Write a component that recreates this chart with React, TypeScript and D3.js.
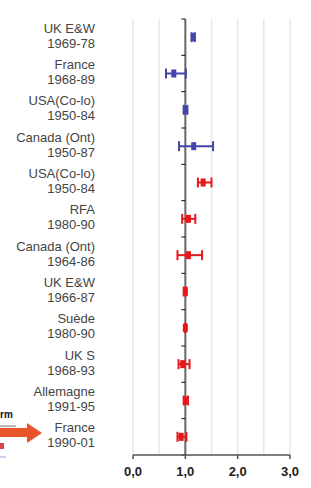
import React from 'react'
import * as d3 from 'd3'

// study labels (two lines each)
const studies = [
  'UK E&W', 'France', 'USA(Co-lo)', 'Canada (Ont)',
  'USA(Co-lo)', 'RFA', 'Canada (Ont)', 'UK E&W',
  'Suède', 'UK S', 'Allemagne', 'France',
]
const periods = [
  '1969-78', '1968-89', '1950-84', '1950-87',
  '1950-84', '1980-90', '1964-86', '1966-87',
  '1980-90', '1968-93', '1991-95', '1990-01',
]
// relative risk and confidence interval
const rr = [1.15, 0.78, 1.0, 1.16, 1.34, 1.06, 1.06, 1.0, 1.0, 0.95, 1.0, 0.92]
const lo = [1.12, 0.63, 0.97, 0.88, 1.24, 0.94, 0.85, 0.97, 0.99, 0.87, 0.97, 0.85]
const hi = [1.18, 1.01, 1.04, 1.53, 1.5, 1.19, 1.32, 1.02, 1.01, 1.08, 1.05, 1.02]
const group = ['b', 'b', 'b', 'b', 'r', 'r', 'r', 'r', 'r', 'r', 'r', 'r']

const xTicks = [0, 1, 2, 3]
const gridVals = [0, 0.5, 1.5, 2, 2.5, 3]

const W = 311
const H = 488
const colors = { b: '#4444aa', r: '#e8171a' }

export default function App() {
  const x = d3.scaleLinear().domain([0, 3]).range([133, 290])
  const y = d3
    .scaleBand<number>()
    .domain(d3.range(studies.length))
    .range([19, 455])
  const bw = y.bandwidth()
  const fmt = (v: number) => v.toFixed(1).replace('.', ',')
  const font = 'Liberation Sans, Arial, sans-serif'

  return (
    <svg
      width={W}
      height={H}
      style={{ position: 'absolute', left: 0, top: 0, background: '#fff' }}
    >
      {/* gridlines */}
      {gridVals.map((g) => (
        <line
          key={g}
          x1={x(g)}
          x2={x(g)}
          y1={19}
          y2={455}
          stroke="#e8e8e8"
          strokeWidth={1.5}
        />
      ))}

      {/* vertical axis at 1 */}
      <line x1={x(1)} x2={x(1)} y1={19} y2={455} stroke="#666" strokeWidth={2} />
      {d3.range(studies.length + 1).map((i) => (
        <line
          key={i}
          x1={x(1) - 4}
          x2={x(1)}
          y1={19 + i * bw}
          y2={19 + i * bw}
          stroke="#111"
          strokeWidth={1}
        />
      ))}

      {/* bottom axis */}
      <line x1={x(0)} x2={x(3)} y1={455} y2={455} stroke="#555" strokeWidth={1.5} />
      {xTicks.map((t) => (
        <g key={t}>
          <line x1={x(t)} x2={x(t)} y1={455} y2={459} stroke="#555" strokeWidth={1.5} />
          <text
            x={x(t)}
            y={473}
            textAnchor="middle"
            dominantBaseline="middle"
            fontFamily={font}
            fontWeight="bold"
            fontSize={13}
            fill="#222"
          >
            {fmt(t)}
          </text>
        </g>
      ))}

      {/* labels */}
      {studies.map((s, i) => {
        const cy = (y(i) as number) + bw / 2
        return (
          <g key={i} fontFamily={font} fontSize={13} fill="#444" textAnchor="end">
            <text x={95} y={cy - 8} dominantBaseline="middle">{s}</text>
            <text x={95} y={cy + 7} dominantBaseline="middle">{periods[i]}</text>
          </g>
        )
      })}

      {/* error bars */}
      {rr.map((v, i) => {
        const cy = (y(i) as number) + bw / 2
        const c = colors[group[i] as 'b' | 'r']
        return (
          <g key={i} stroke={c} fill={c}>
            <line x1={x(lo[i])} x2={x(hi[i])} y1={cy} y2={cy} strokeWidth={2} />
            <line x1={x(lo[i])} x2={x(lo[i])} y1={cy - 5} y2={cy + 5} strokeWidth={2} />
            <line x1={x(hi[i])} x2={x(hi[i])} y1={cy - 5} y2={cy + 5} strokeWidth={2} />
            <rect x={x(v) - 2.5} y={cy - 4} width={5} height={8} stroke="none" />
          </g>
        )
      })}

      {/* clipped fragment on the left edge */}
      <text x={0} y={418} fontFamily={font} fontWeight="bold" fontSize={10} fill="#111">
        rm
      </text>
      <line x1={0} x2={16} y1={426} y2={426} stroke="#777" strokeWidth={1} />
      <rect x={0} y={443} width={4} height={6} fill="#e04050" />
      <line x1={0} x2={6} y1={457} y2={457} stroke="#9aa6d0" strokeWidth={1} />
      <path
        d="M0,428 L27,428 L27,423 L42,433 L27,443 L27,437 L0,437 Z"
        fill="#e8552a"
      />
    </svg>
  )
}
